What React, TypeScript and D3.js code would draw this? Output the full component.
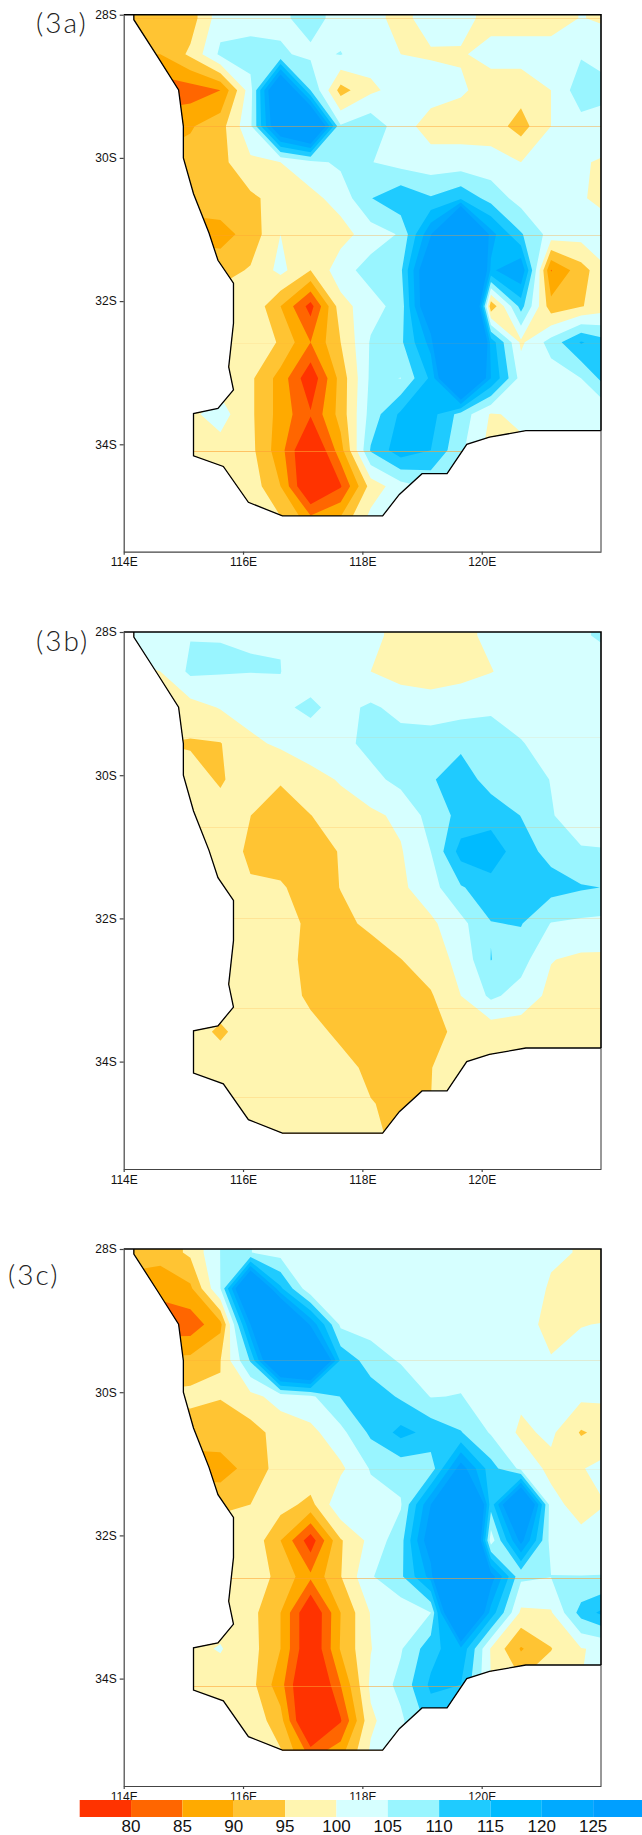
import React, { useEffect, useRef } from "react";
import * as d3 from "d3";

// grid nodes of the field (0.5 deg-ish)
const lonNodes = [114.11, 114.61, 115.12, 115.62, 116.13, 116.63, 117.13, 117.64, 118.14, 118.65, 119.15, 119.65, 120.16, 120.66, 121.17, 121.67, 122.17];
const latNodes = [28.05, 28.55, 29.05, 29.56, 30.06, 30.56, 31.07, 31.57, 32.07, 32.58, 33.08, 33.58, 34.08, 34.59, 35.09];

const rowsA = [
  [92, 92, 92.5, 103, 102.5, 104, 107, 103, 101, 99, 101.5, 101, 99, 98, 98, 100.2, 99],
  [90, 90, 96, 106, 107.5, 105.6, 104, 105.2, 102, 100, 99.6, 99.7, 101, 102, 102, 104.5, 103],
  [82, 82, 82.4, 85, 103, 140, 110, 93, 99, 102, 102, 100.5, 98.5, 97, 100, 108, 106],
  [88, 88, 89.5, 93, 104, 135, 145, 105.5, 108.5, 102, 98, 98, 97.5, 93, 100, 103, 103],
  [91, 91, 92, 93.5, 99, 100, 103.5, 106, 105.2, 103, 102, 102, 102, 100, 101, 100.5, 99],
  [92, 92, 92, 93, 94, 97, 98.5, 102, 109.8, 114, 110.5, 114, 108, 103, 102, 100.5, 98],
  [88, 88, 88, 88, 92, 100, 97, 98, 102.5, 105.5, 124.5, 165, 122, 110.5, 103, 102, 102],
  [95, 95, 95, 93, 95.5, 101.5, 95, 103, 107, 109, 135, 165, 119, 125, 84.7, 93, 100],
  [98, 98, 98, 98, 99.5, 90, 78, 98, 103, 107, 135, 180, 91, 112, 92, 94.7, 98],
  [98, 98, 98, 98, 98, 94.5, 85, 95, 105.5, 109, 122, 180, 118, 99, 107, 115.5, 111],
  [98, 98, 98, 98, 96, 88, 76, 92, 106, 104.9, 116, 150, 120, 103, 102.5, 105, 114],
  [100, 100, 99, 102, 96, 88, 80.5, 92, 107, 116, 117, 108, 99.5, 101, 102, 102, 103],
  [100, 100, 98, 98, 96.5, 87, 72, 88, 110.5, 118, 115, 106, 98, 99, 100, 100, 100],
  [100, 100, 100, 100, 98, 90, 72, 79.5, 97, 103, 106, 106, 100, 100, 100, 100, 100],
  [100, 100, 100, 100, 100, 96, 88, 92, 102, 105, 106, 106, 100, 100, 100, 100, 100],
];

const rowsB = [
  [102, 102, 104.8, 104.9, 104.9, 104.9, 103, 102, 100.8, 99, 98.5, 98.8, 101, 102.5, 103, 104.5, 106],
  [99, 100, 106, 105.4, 105.1, 105.05, 103, 103, 100, 98, 98, 98.5, 99.8, 102, 103, 103, 103.5],
  [97, 97, 98, 100.3, 102, 104.3, 105.8, 103.5, 105.8, 103.5, 102, 103, 104.7, 103, 103, 103, 103],
  [95, 95, 94.5, 94.8, 99, 100.8, 103, 103.5, 106.5, 107, 108, 109, 106, 105.3, 103, 102.5, 102],
  [97, 97, 97, 94.4, 98, 95.8, 98, 100.5, 103.5, 106.5, 109.5, 112.5, 108, 106.5, 104.9, 103.5, 103],
  [98, 98, 99, 97, 95.05, 91, 94.9, 97.5, 99, 101, 107, 111.5, 113, 109.9, 105.2, 103.5, 103],
  [98, 98, 98, 98, 94, 93, 92, 95.4, 98, 99.6, 105, 117, 118, 112, 108.5, 105.3, 105.2],
  [98, 98, 98, 98, 95.6, 95.5, 93, 95.1, 98, 99, 103, 109.5, 113, 114, 112, 110.5, 109.7],
  [98, 98, 98, 98, 98, 97, 94, 94, 95.8, 98, 99, 103.5, 109.8, 110.3, 104.8, 104, 103.5],
  [98, 98, 98, 99, 99, 97, 93.5, 93, 93, 94.9, 97.5, 101.5, 110.1, 107, 100.2, 99, 99],
  [98, 98, 98, 99, 99, 97.5, 94, 92, 92, 93, 94.5, 100, 106, 103, 98.7, 98.5, 98.5],
  [98, 98, 98, 93.8, 98.5, 98, 96.5, 94, 92, 92, 93.8, 96, 97, 97.4, 98, 98, 98],
  [98, 98, 99, 98.5, 98, 98, 98, 96.5, 94, 93, 94.9, 97, 98, 98, 98, 98, 98],
  [98, 98, 98, 98, 98, 98, 98, 98, 95.2, 94, 95, 98, 98, 98, 98, 98, 98],
  [98, 98, 98, 98, 98, 98, 98, 98, 96, 94, 95, 98, 98, 98, 98, 98, 98],
];

const rowsC = [
  [92, 92, 96, 105.1, 105.1, 103, 103, 103, 102, 102, 102, 102, 102, 102, 100.5, 99.8, 99.5],
  [88, 86.5, 89, 105, 145, 116, 101, 103, 103, 103, 103, 102, 102, 102, 99.6, 98, 98],
  [82, 82, 82, 88.5, 125, 150, 124, 104, 103, 102, 102, 102, 102, 102, 98.5, 99.9, 100.2],
  [91, 91, 91.5, 94.9, 110.5, 145, 150, 114, 107.5, 104.5, 103.5, 103, 103, 102, 100.3, 101, 101],
  [96, 96, 96.5, 95.2, 98.5, 102, 104, 110.2, 113, 109.3, 104.8, 105.2, 102.5, 101, 101, 101, 100.8],
  [92, 92, 92, 93, 93, 97, 98.5, 103.5, 111, 116.5, 113.5, 110.3, 104.5, 99, 101, 94.5, 97],
  [88, 88, 88, 87.5, 92, 97, 99, 99, 105.4, 107, 107, 128, 112, 103.8, 98.5, 99.7, 102],
  [94, 94, 94, 94, 95, 97, 93.5, 104, 103, 104.5, 125, 170, 112, 145, 102, 97.5, 100.5],
  [98, 98, 98, 98, 99, 90, 77, 94.5, 101.5, 108, 130, 170, 102, 127, 103, 102, 102],
  [98, 98, 98, 98, 97, 94, 86, 94.8, 104.5, 109, 122, 180, 128, 106, 105.1, 105.1, 105.2],
  [98, 98, 98, 98, 96.7, 90, 74, 90, 100.3, 102, 104.9, 150, 118, 99, 99.5, 112, 118],
  [99, 99, 99, 100.3, 97, 90, 74, 90.5, 99.8, 104.5, 113, 119, 99.5, 89.5, 94.8, 99.8, 101],
  [98, 98, 98, 98, 96.8, 87, 70, 85, 101, 106.5, 116, 115, 100, 96, 98, 100, 100],
  [100, 100, 100, 100, 98.5, 92, 69, 79.5, 99, 104, 112, 112, 100, 100, 100, 100, 100],
  [100, 100, 100, 100, 100, 96, 84, 89, 101, 105, 108, 108, 100, 100, 100, 100, 100],
];

const levels = [80, 85, 90, 95, 100, 105, 110, 115, 120, 125];
const colors = ["#ff3300", "#ff6600", "#ffaa00", "#ffc433", "#fff5b0", "#d6ffff", "#99f5ff", "#1fcbff", "#00bbff", "#00aaff", "#009fff"];

// coastline, lon/lat
const coastLon = [114.17, 114.17, 114.57, 114.92, 115.0, 115.0, 115.17, 115.43, 115.58, 115.84, 115.84, 115.76, 115.84, 115.58, 115.17, 115.17, 115.67, 116.09, 116.66, 118.34, 118.62, 119.0, 119.42, 119.75, 120.13, 120.74, 122];
const coastLat = [28, 28.07, 28.59, 29.05, 29.56, 30.0, 30.5, 31.05, 31.43, 31.75, 32.31, 32.92, 33.24, 33.5, 33.57, 34.16, 34.31, 34.81, 35, 35, 34.7, 34.41, 34.41, 34.0, 33.9, 33.81, 33.81];

const lonTicks = [114, 116, 118, 120];
const latTicks = [28, 30, 32, 34];

// the thin stray lines across each panel
const streakLatA = [28.05, 29.56, 31.07, 32.58, 34.1];
const streakOpacityA = [0.3, 0.45, 0.35, 0.1, 0.6];
const streakLatB = [29.46, 30.73, 32.0, 33.25, 34.5];
const streakOpacityB = [0.1, 0.2, 0.2, 0.2, 0.2];
const streakLatC = [29.55, 31.07, 32.6, 34.1];
const streakOpacityC = [0.2, 0.1, 0.55, 0.55];

const X0 = 123.7;
const X1 = 601;
const PANEL_H = 537;

function drawPanel(svg: any, id: string, rows: number[][], top: number, streakLat: number[], streakOpacity: number[]) {
  const x = d3.scaleLinear().domain([114, 122]).range([X0, X1]);
  const y = d3.scaleLinear().domain([28, 35.5]).range([top, top + PANEL_H]);

  // repeat first row above so the contours reach the top edge
  const grid = [rows[0], ...rows];
  const nx = lonNodes.length;
  const ny = grid.length;
  const gridLon = d3.scaleLinear().domain([0.5, nx - 0.5]).range([lonNodes[0], lonNodes[nx - 1]]);
  const gridLat = d3.scaleLinear().domain([1.5, ny - 0.5]).range([latNodes[0], latNodes[latNodes.length - 1]]);

  const path = d3.geoPath(
    d3.geoTransform({
      point(px: number, py: number) {
        (this as any).stream.point(x(gridLon(px)), y(gridLat(py)));
      },
    })
  );

  const coast = coastLon.map((d, i) => [x(d), y(coastLat[i])] as [number, number]);
  const land: [number, number][] = [...coast, [x(122), y(28)]];

  svg
    .append("clipPath")
    .attr("id", id)
    .append("path")
    .attr("d", d3.line()(land) + "Z");

  const g = svg.append("g").attr("clip-path", `url(#${id})`);
  g.append("rect")
    .attr("x", X0)
    .attr("y", top)
    .attr("width", X1 - X0)
    .attr("height", PANEL_H)
    .attr("fill", colors[0]);

  const contours = d3.contours().size([nx, ny]).thresholds(levels)(grid.flat());
  g.selectAll("path.band")
    .data(contours)
    .join("path")
    .attr("class", "band")
    .attr("fill", (_: any, i: number) => colors[i + 1])
    .attr("d", (d: any) => path(d));

  g.selectAll("line.streak")
    .data(streakLat)
    .join("line")
    .attr("class", "streak")
    .attr("x1", X0)
    .attr("x2", X1)
    .attr("y1", (d: number) => Math.round(y(d)) + 0.5)
    .attr("y2", (d: number) => Math.round(y(d)) + 0.5)
    .attr("stroke", "#ffa030")
    .attr("stroke-opacity", (_: any, i: number) => streakOpacity[i]);

  svg
    .append("path")
    .attr("d", d3.line()(coast))
    .attr("fill", "none")
    .attr("stroke", "#000")
    .attr("stroke-width", 1.3);

  // top and right frame is heavier than the axes
  svg
    .append("path")
    .attr("d", `M${X0},${top}H${X1}V${y(33.81)}`)
    .attr("fill", "none")
    .attr("stroke", "#000")
    .attr("stroke-width", 1.6);
  svg
    .append("path")
    .attr("d", `M${X1},${y(33.81)}V${top + PANEL_H}`)
    .attr("fill", "none")
    .attr("stroke", "#333")
    .attr("stroke-width", 1);

  const left = svg
    .append("g")
    .attr("transform", `translate(${X0},0)`)
    .call(
      d3
        .axisLeft(y)
        .tickValues(latTicks)
        .tickFormat((d: any) => `${d}S`)
        .tickSize(4)
        .tickSizeOuter(0)
        .tickPadding(3)
    );
  const bottom = svg
    .append("g")
    .attr("transform", `translate(0,${top + PANEL_H})`)
    .call(
      d3
        .axisBottom(x)
        .tickValues(lonTicks)
        .tickFormat((d: any) => `${d}E`)
        .tickSize(3)
        .tickSizeOuter(0)
        .tickPadding(3)
    );
  [left, bottom].forEach((a) => {
    a.attr("font-family", "'Liberation Sans'").attr("font-size", 12);
    a.selectAll("path,line").attr("stroke", "#444").attr("stroke-width", 1.2);
    a.selectAll("text").attr("fill", "#111");
  });
}

function drawColorbar(svg: any) {
  const x = d3.scaleLinear().domain([75, 130]).range([79.7, 644.5]);
  const edges = [75, ...levels, 130];
  svg
    .append("g")
    .selectAll("rect")
    .data(colors)
    .join("rect")
    .attr("x", (_: any, i: number) => x(edges[i]))
    .attr("width", (_: any, i: number) => x(edges[i + 1]) - x(edges[i]))
    .attr("y", 1800)
    .attr("height", 17)
    .attr("fill", (d: string) => d);
  svg
    .append("g")
    .selectAll("text")
    .data(levels)
    .join("text")
    .attr("x", (d: number) => x(d))
    .attr("y", 1832)
    .attr("text-anchor", "middle")
    .attr("font-family", "'Liberation Sans'")
    .attr("font-size", 17)
    .attr("fill", "#111")
    .text((d: number) => d);
}

const App = () => {
  const ref = useRef<SVGSVGElement>(null);

  useEffect(() => {
    const svg = d3.select(ref.current);
    svg.selectAll("*").remove();
    drawPanel(svg, "landA", rowsA, 14.7, streakLatA, streakOpacityA);
    drawPanel(svg, "landB", rowsB, 632, streakLatB, streakOpacityB);
    drawPanel(svg, "landC", rowsC, 1249, streakLatC, streakOpacityC);
    drawColorbar(svg);

    const titles: [string, number, number][] = [
      ["(3a)", 36, 33],
      ["(3b)", 36, 651],
      ["(3c)", 8, 1285],
    ];
    svg
      .append("g")
      .selectAll("text")
      .data(titles)
      .join("text")
      .attr("x", (d: any) => d[1])
      .attr("y", (d: any) => d[2])
      .attr("font-family", "Lato")
      .attr("font-weight", 300)
      .attr("font-size", 28)
      .attr("letter-spacing", 2)
      .attr("fill", "#222")
      .text((d: any) => d[0]);
  }, []);

  return <svg ref={ref} width={642} height={1835} style={{ position: "absolute", left: 0, top: 0 }} />;
};

export default App;
